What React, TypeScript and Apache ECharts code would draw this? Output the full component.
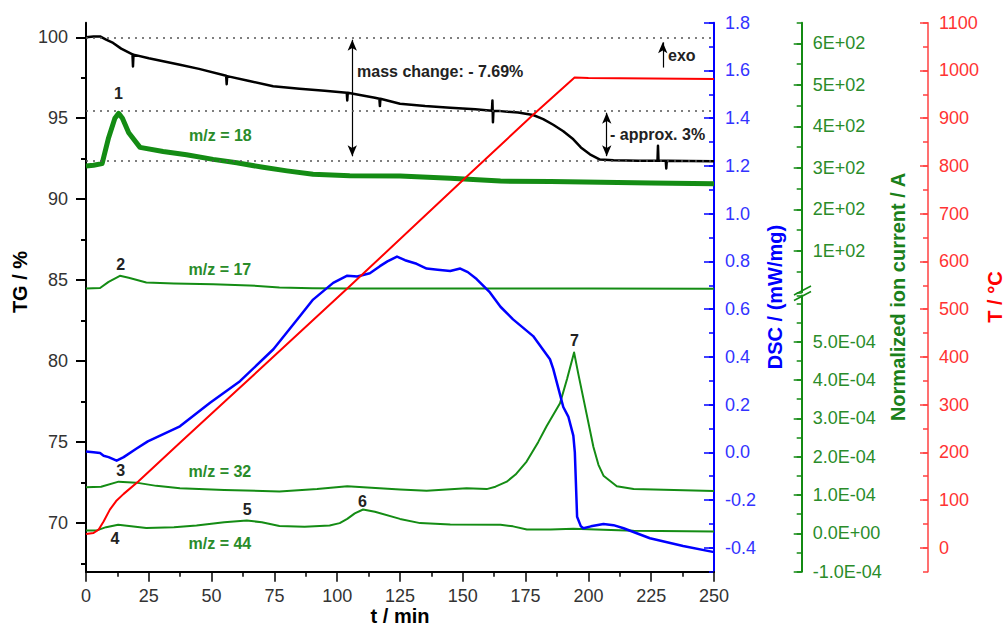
import React, { useEffect, useRef } from 'react';
import * as echarts from 'echarts';

// ---------- data (t in min) ----------
const tgTime = [0, 3, 5.6, 8, 10.8, 14, 18.5, 18.7, 18.9, 25, 37.4, 45, 55.8, 56, 56.2, 65, 74.5, 85, 95, 103.8, 104, 104.2, 115, 116.8, 117, 117.2, 125, 135, 145, 155, 161.6, 161.8, 162, 162.2, 165, 172, 178, 182, 186, 190, 194, 197, 200.6, 204.6, 210, 220, 227.5, 227.7, 227.9, 230.8, 231, 231.2, 240, 250];
const tgValues = [100.0, 100.05, 100.05, 99.85, 99.65, 99.3, 98.95, 98.2, 98.93, 98.7, 98.3, 98.05, 97.62, 97.1, 97.6, 97.3, 96.98, 96.82, 96.7, 96.58, 96.1, 96.57, 96.27, 96.2, 95.75, 96.2, 95.9, 95.75, 95.65, 95.55, 95.47, 96.1, 94.75, 95.46, 95.44, 95.35, 95.2, 94.95, 94.6, 94.2, 93.7, 93.2, 92.77, 92.45, 92.4, 92.38, 92.37, 93.3, 92.37, 92.37, 91.9, 92.37, 92.36, 92.35];

const mz18Time = [0, 3, 6.4, 9, 11.5, 13, 14.5, 17, 21.5, 30.7, 40, 50.6, 60, 70.5, 80, 90.4, 105, 125, 145, 165, 185, 205, 225, 250];
const mz18Values = [92.05, 92.1, 92.2, 93.8, 95.0, 95.3, 95.0, 94.1, 93.2, 92.95, 92.75, 92.46, 92.25, 91.97, 91.75, 91.54, 91.45, 91.43, 91.3, 91.12, 91.1, 91.05, 91.0, 90.95];

const mz17Time = [0, 5.6, 9, 13.5, 17, 24, 35, 50.6, 65, 77, 90, 104, 150, 200, 250];
const mz17Values = [84.49, 84.52, 84.9, 85.27, 85.15, 84.86, 84.8, 84.75, 84.68, 84.55, 84.5, 84.49, 84.48, 84.48, 84.47];

const mz32Time = [0, 6, 13, 20, 28, 37.4, 55, 77, 92, 104, 112, 125, 135.6, 151.5, 159.5, 163, 167.5, 171, 175.4, 180, 183.4, 188.7, 191.5, 194.3, 196, 198, 202, 204, 206, 211.3, 218, 250];
const mz32Values = [72.22, 72.25, 72.56, 72.5, 72.3, 72.16, 72.05, 71.95, 72.1, 72.28, 72.2, 72.07, 72.0, 72.15, 72.1, 72.25, 72.56, 73.0, 73.8, 75.0, 76.0, 77.4, 78.9, 80.54, 79.2, 77.7, 74.7, 73.6, 72.93, 72.28, 72.1, 71.98];

const mz44Time = [0, 4.3, 8, 12.8, 18, 24, 35, 44, 55, 64, 70, 77, 87, 97, 101, 104, 107, 110.3, 115, 125, 133, 145, 165, 170, 175.5, 185, 194, 218, 250];
const mz44Values = [69.54, 69.55, 69.75, 69.9, 69.8, 69.7, 69.75, 69.85, 70.05, 70.16, 70.05, 69.82, 69.78, 69.85, 70.0, 70.26, 70.6, 70.84, 70.7, 70.26, 70.0, 69.92, 69.9, 69.8, 69.6, 69.6, 69.65, 69.53, 69.48];

const dscTime = [0, 3, 5.6, 7, 9, 12.2, 15, 20, 24.6, 37.4, 49.4, 61.3, 74.6, 85.2, 90.4, 98.4, 104, 108, 113, 117, 120, 123.8, 127, 131.6, 135.6, 140, 145, 149, 152, 155.5, 160.8, 165, 170, 178, 184.7, 186, 188, 190, 192, 194, 194.6, 195.5, 197, 198, 201, 206, 210, 214, 224.5, 237.7, 250];
const dscValues = [0.004, 0.0, -0.003, -0.014, -0.02, -0.035, -0.02, 0.015, 0.046, 0.109, 0.208, 0.298, 0.432, 0.571, 0.64, 0.71, 0.74, 0.737, 0.75, 0.78, 0.80, 0.82, 0.805, 0.79, 0.77, 0.765, 0.76, 0.77, 0.755, 0.726, 0.67, 0.61, 0.557, 0.487, 0.39, 0.35, 0.27, 0.19, 0.15, 0.07, 0.0, -0.27, -0.31, -0.318, -0.31, -0.30, -0.305, -0.318, -0.36, -0.392, -0.418];

const tempTime = [0, 3, 5, 7, 9.5, 12, 15, 20.8, 37.4, 56, 104, 150, 178, 194.5, 200, 250];
const tempValues = [29, 31, 38, 55, 80, 98, 113, 139, 220, 310, 543, 770, 907, 985, 984, 982];

// reference levels on TG axis (%)
const tgLevels = [100, 95.45, 92.4];

// annotations in data space (t, TG %)
const peakLabels = ['1', '2', '3', '4', '5', '6', '7'];
const peakT = [12.9, 13.8, 13.8, 11.5, 64.2, 110.1, 194.4];
const peakTG = [96.53, 85.99, 73.24, 69.07, 70.84, 71.33, 81.26];
const mzLabels = ['m/z = 18', 'm/z = 17', 'm/z = 32', 'm/z = 44'];
const mzT = [53.5, 53.3, 53.3, 53.3];
const mzTG = [93.94, 85.64, 73.18, 68.72];

const W = 1006, H = 626;
const PL = 86, PR = 714, PT = 22.7, PB = 571.7;
const GU_B = 292.3; // green upper axis bottom (break)
const GL_T = 295.6; // green lower axis top
const FONT = '"Liberation Sans", Arial, sans-serif';

const BLUE = '#0000ff', RED = '#ff0000', GREEN = '#138a13';
const BLUE_T = '#3333ff', RED_T = '#ff3333', GREEN_T = '#2a8c2a';

const zip = (a: number[], b: number[]) => a.map((x, i) => [x, b[i]]);

function subGrid(top: number, bottom: number, vmin: number, vmax: number, lo: number, hi: number) {
  const h = bottom - top;
  return {
    left: PL, width: PR - PL,
    top: top + (vmax - hi) / (vmax - vmin) * h,
    height: (hi - lo) / (vmax - vmin) * h,
    outerBoundsMode: 'none',
  };
}

const fmtE = (v: number) => {
  if (Math.abs(v) < 1e-12) return '0.0E+00';
  const e = Math.floor(Math.log10(Math.abs(v)) + 1e-9);
  const m = v / Math.pow(10, e);
  return `${m.toFixed(1)}E${e < 0 ? '-' : '+'}${String(Math.abs(e)).padStart(2, '0')}`;
};

function App() {
  const ref = useRef<HTMLDivElement>(null);
  useEffect(() => {
    const chart = echarts.init(ref.current!, null, { renderer: 'svg' });
    const noLine = { show: false };
    const noAxisLine = { show: false, onZero: false };
    const axLine = (color: string, width: number) => ({ show: true, onZero: false, lineStyle: { color, width } });
    const hiddenX = (g: number) => ({ type: 'value', gridIndex: g, show: false, min: 0, max: 1, axisLine: noAxisLine });

    const grids = [
      { left: PL, width: PR - PL, top: PT, height: PB - PT, outerBoundsMode: 'none' },
      subGrid(PT, PB, 67, 100.9, 70, 100),
      subGrid(PT, PB, 67, 100.9, 67.5, 100),
      subGrid(PT, PB, -0.5, 1.8, -0.4, 1.8),
      subGrid(PT, PB, -50, 1100, 0, 1100),
      { left: PL, width: PR - PL, top: PT, height: GU_B - PT, outerBoundsMode: 'none' },
      subGrid(PT, GU_B, 0, 650, 100, 600),
      { left: PL, width: PR - PL, top: GL_T, height: PB - GL_T, outerBoundsMode: 'none' },
      subGrid(GL_T, PB, -1e-4, 6.2e-4, -1e-4, 5e-4),
    ];

    const lbl = (color: string, margin: number, formatter?: any) => ({
      show: true, fontSize: 18, fontFamily: FONT, color, margin, formatter,
    });

    const yAxes: any[] = [
      // 0 TG main
      { type: 'value', gridIndex: 0, position: 'left', min: 67, max: 100.9, splitLine: noLine,
        axisLine: axLine('#000', 2), axisTick: noLine, axisLabel: noLine },
      // 1 DSC main (minor ticks)
      { type: 'value', gridIndex: 0, position: 'right', offset: 0, min: -0.5, max: 1.8, interval: 0.1, splitLine: noLine,
        axisLine: axLine(BLUE, 2),
        axisTick: { show: true, inside: true, length: 5, lineStyle: { color: BLUE, width: 1.5 } }, axisLabel: noLine },
      // 2 T main (minor ticks)
      { type: 'value', gridIndex: 0, position: 'right', offset: 214, min: -50, max: 1100, interval: 50, splitLine: noLine,
        axisLine: axLine('#ff4040', 1.5),
        axisTick: { show: true, inside: true, length: 5, lineStyle: { color: '#ff4040', width: 1.5 } }, axisLabel: noLine },
      // 3 TG majors
      { type: 'value', gridIndex: 1, position: 'left', min: 70, max: 100, interval: 5, splitLine: noLine, axisLine: noAxisLine,
        axisTick: { show: true, length: 10, lineStyle: { color: '#000', width: 2 } }, axisLabel: lbl('#333', 18) },
      // 4 TG minors
      { type: 'value', gridIndex: 2, position: 'left', min: 67.5, max: 100, interval: 2.5, splitLine: noLine, axisLine: noAxisLine,
        axisTick: { show: true, length: 5, lineStyle: { color: '#000', width: 2 } }, axisLabel: noLine },
      // 5 DSC majors
      { type: 'value', gridIndex: 3, position: 'right', offset: 0, min: -0.4, max: 1.8, interval: 0.2, splitLine: noLine, axisLine: noAxisLine,
        axisTick: { show: true, inside: true, length: 10, lineStyle: { color: BLUE, width: 1.5 } },
        axisLabel: lbl(BLUE_T, 11, (v: number) => (Math.abs(v) < 1e-9 ? '0.0' : v.toFixed(1))) },
      // 6 T majors
      { type: 'value', gridIndex: 4, position: 'right', offset: 214, min: 0, max: 1100, interval: 100, splitLine: noLine, axisLine: noAxisLine,
        axisTick: { show: true, inside: true, length: 8, lineStyle: { color: '#ff4040', width: 1.5 } },
        axisLabel: lbl(RED_T, 11, (v: number) => String(Math.round(v))) },
      // 7 green upper
      { type: 'value', gridIndex: 5, position: 'right', offset: 87.7, min: 0, max: 650, interval: 50, splitLine: noLine,
        axisLine: axLine(GREEN, 2),
        axisTick: { show: true, inside: true, length: 5, lineStyle: { color: GREEN, width: 1.5 } }, axisLabel: noLine },
      // 8 green upper majors
      { type: 'value', gridIndex: 6, position: 'right', offset: 87.7, min: 100, max: 600, interval: 100, splitLine: noLine, axisLine: noAxisLine,
        axisTick: { show: true, inside: true, length: 8, lineStyle: { color: GREEN, width: 1.5 } },
        axisLabel: lbl(GREEN_T, 11, (v: number) => `${Math.round(v / 100)}E+02`) },
      // 9 green lower
      { type: 'value', gridIndex: 7, position: 'right', offset: 87.7, min: -1e-4, max: 6.2e-4, interval: 0.5e-4, splitLine: noLine,
        axisLine: axLine(GREEN, 2),
        axisTick: { show: true, inside: true, length: 5, lineStyle: { color: GREEN, width: 1.5 } }, axisLabel: noLine },
      // 10 green lower majors
      { type: 'value', gridIndex: 8, position: 'right', offset: 87.7, min: -1e-4, max: 5e-4, interval: 1e-4, splitLine: noLine, axisLine: noAxisLine,
        axisTick: { show: true, inside: true, length: 8, lineStyle: { color: GREEN, width: 1.5 } },
        axisLabel: lbl(GREEN_T, 11, fmtE) },
    ];

    const xAxes: any[] = [
      { type: 'value', gridIndex: 0, position: 'bottom', min: 0, max: 250, interval: 25, splitLine: noLine,
        axisLine: axLine('#000', 2),
        axisTick: { show: true, length: 10, lineStyle: { color: '#000', width: 1.5 } },
        minorTick: { show: true, splitNumber: 2, length: 5, lineStyle: { color: '#000', width: 1.5 } },
        minorSplitLine: { show: false },
        axisLabel: lbl('#333', 15) },
      ...[1, 2, 3, 4, 5, 6, 7, 8].map(hiddenX),
    ];

    const lineS = (name: string, t: number[], v: number[], yIdx: number, color: string, width: number, extra: any = {}) => ({
      type: 'line', name, xAxisIndex: 0, yAxisIndex: yIdx, data: zip(t, v), showSymbol: false, symbol: 'none',
      smooth: false, lineStyle: { color, width, join: 'round' }, itemStyle: { color }, silent: true, ...extra,
    });

    const arrowStyle = { color: '#000', width: 1.2, type: 'solid' };

    const series: any[] = [
      lineS('m/z 18', mz18Time, mz18Values, 0, '#148c14', 5, {
        markLine: {
          silent: true, symbol: ['arrow', 'arrow'], symbolSize: [7, 11], label: { show: false },
          lineStyle: arrowStyle,
          data: [
            [{ coord: [106, 99.85] }, { coord: [106, 92.65] }],
            [{ coord: [207.3, 95.34] }, { coord: [207.3, 92.66] }],
          ],
        },
      }),
      lineS('m/z 17', mz17Time, mz17Values, 0, '#148c14', 2, {
        markLine: {
          silent: true, symbol: ['none', 'arrow'], symbolSize: [7, 11], label: { show: false },
          lineStyle: arrowStyle,
          data: [[{ coord: [229.6, 98.13] }, { coord: [229.6, 99.69] }]],
        },
      }),
      lineS('m/z 32', mz32Time, mz32Values, 0, '#148c14', 2),
      lineS('m/z 44', mz44Time, mz44Values, 0, '#148c14', 2),
      lineS('TG', tgTime, tgValues, 0, '#000', 2.5, {
        markLine: {
          silent: true, symbol: ['none', 'none'], label: { show: false },
          lineStyle: { color: '#555', width: 1.5, type: [2, 5] },
          data: tgLevels.map((v) => ({ yAxis: v })),
        },
      }),
      lineS('DSC', dscTime, dscValues, 1, BLUE, 2.5),
      lineS('T', tempTime, tempValues, 2, RED, 2),
    ];

    const titleStyle = (text: string, color: string) => ({
      text, fill: color, font: `bold 20px ${FONT}`,
      align: 'center', verticalAlign: 'middle', textAlign: 'center', textVerticalAlign: 'middle',
    });

    const baseGraphic: any[] = [
      { type: 'text', x: 20, y: 282, rotation: Math.PI / 2, style: titleStyle('TG / %', '#000') },
      { type: 'text', x: 400, y: 616, style: titleStyle('t / min', '#000') },
      { type: 'text', x: 775, y: 297, rotation: Math.PI / 2, style: titleStyle('DSC / (mW/mg)', BLUE) },
      { type: 'text', x: 898, y: 297, rotation: Math.PI / 2, style: titleStyle('Normalized ion current / A', '#1a801a') },
      { type: 'text', x: 995, y: 297, rotation: Math.PI / 2, style: titleStyle('T / °C', RED) },
      { type: 'line', shape: { x1: 794, y1: 295, x2: 811, y2: 286 }, style: { stroke: GREEN, lineWidth: 1.5 } },
      { type: 'line', shape: { x1: 794, y1: 300.5, x2: 811, y2: 291.5 }, style: { stroke: GREEN, lineWidth: 1.5 } },
    ];

    chart.setOption({
      animation: false,
      backgroundColor: '#fff',
      textStyle: { fontFamily: FONT },
      grid: grids,
      xAxis: xAxes,
      yAxis: yAxes,
      series,
      graphic: baseGraphic,
    });

    const px = (t: number, v: number) => chart.convertToPixel({ xAxisIndex: 0, yAxisIndex: 0 }, [t, v]) as number[];
    const noteStyle = (text: string, color: string, align: string) => ({
      text, fill: color, font: `bold 16px ${FONT}`,
      align, verticalAlign: 'middle', textAlign: align, textVerticalAlign: 'middle',
    });
    const notes: any[] = [];
    peakLabels.forEach((s, i) => {
      const [x, y] = px(peakT[i], peakTG[i]);
      notes.push({ type: 'text', x, y, style: noteStyle(s, '#222', 'center') });
    });
    mzLabels.forEach((s, i) => {
      const [x, y] = px(mzT[i], mzTG[i]);
      notes.push({ type: 'text', x, y, style: noteStyle(s, GREEN_T, 'center') });
    });
    {
      const [x1, y1] = px(107.9, 97.9);
      notes.push({ type: 'text', x: x1, y: y1, style: noteStyle('mass change: - 7.69%', '#222', 'left') });
      const [x2, y2] = px(208.6, 94.0);
      notes.push({ type: 'text', x: x2, y: y2, style: noteStyle('- approx. 3%', '#222', 'left') });
      const [x3, y3] = px(231.7, 98.87);
      notes.push({ type: 'text', x: x3, y: y3, style: noteStyle('exo', '#222', 'left') });
    }
    chart.setOption({ graphic: [...baseGraphic, ...notes] });

    return () => chart.dispose();
  }, []);
  return <div ref={ref} style={{ position: 'fixed', left: 0, top: 0, width: W, height: H, background: '#fff' }} />;
}

export default App;
